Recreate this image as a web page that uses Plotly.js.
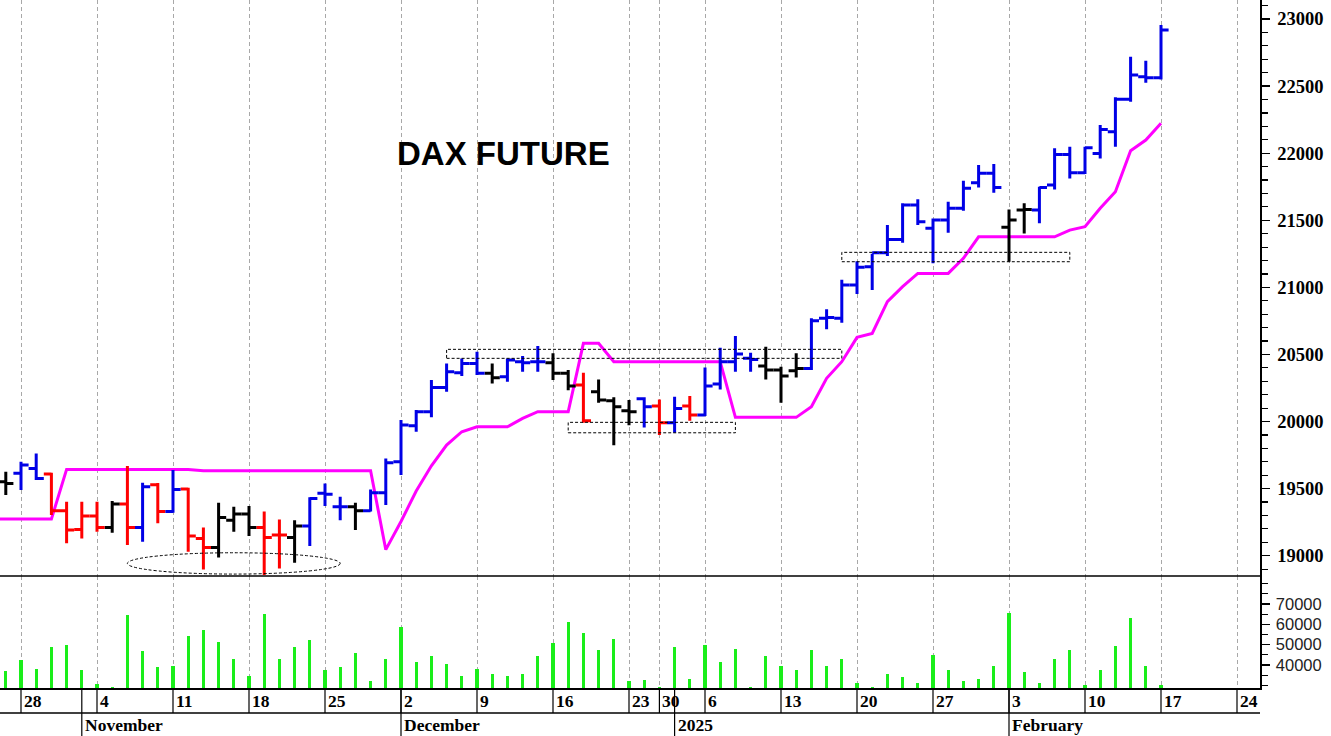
<!DOCTYPE html>
<html>
<head>
<meta charset="utf-8">
<script src="https://cdn.plot.ly/plotly-3.0.1.min.js"></script>
<style>
html,body{margin:0;padding:0;background:#fff;}
#chart{width:1331px;height:736px;}
</style>
</head>
<body>
<div id="chart"></div>
<script>
// ---------- DATA ----------
// trading-day calendar used by the time axis (Eurex holidays skipped)
const calendar = [
 '2024-10-24','2024-10-25',
 '2024-10-28','2024-10-29','2024-10-30','2024-10-31','2024-11-01',
 '2024-11-04','2024-11-05','2024-11-06','2024-11-07','2024-11-08',
 '2024-11-11','2024-11-12','2024-11-13','2024-11-14','2024-11-15',
 '2024-11-18','2024-11-19','2024-11-20','2024-11-21','2024-11-22',
 '2024-11-25','2024-11-26','2024-11-27','2024-11-28','2024-11-29',
 '2024-12-02','2024-12-03','2024-12-04','2024-12-05','2024-12-06',
 '2024-12-09','2024-12-10','2024-12-11','2024-12-12','2024-12-13',
 '2024-12-16','2024-12-17','2024-12-18','2024-12-19','2024-12-20',
 '2024-12-23','2024-12-27','2024-12-30','2025-01-02','2025-01-03',
 '2025-01-06','2025-01-07','2025-01-08','2025-01-09','2025-01-10',
 '2025-01-13','2025-01-14','2025-01-15','2025-01-16','2025-01-17',
 '2025-01-20','2025-01-21','2025-01-22','2025-01-23','2025-01-24',
 '2025-01-27','2025-01-28','2025-01-29','2025-01-30','2025-01-31',
 '2025-02-03','2025-02-04','2025-02-05','2025-02-06','2025-02-07',
 '2025-02-10','2025-02-11','2025-02-12','2025-02-13','2025-02-14',
 '2025-02-17','2025-02-18','2025-02-19','2025-02-20','2025-02-21',
 '2025-02-24'
];

const open = [null,19551,19614,19650,19608,19335,19196,19295,19211,19385,19211,19529,19330,19497,19129,19062,19265,19310,19211,19154,19136,19221,19465,19365,19365,19335,19469,19700,19968,20073,20254,20364,20433,20359,20334,20446,20446,20438,20359,20272,20222,20155,20080,20170,20115,19991,20115,20048,20279,20446,20471,20413,20384,20379,20396,20769,20769,21017,21154,21258,21357,21613,21440,21502,21589,21780,21850,21447,21576,21576,21762,21991,21854,21998,22160,22401,22570,22563];
const high = [null,19626,19700,19762,19618,19402,19402,19402,19407,19668,19544,19541,19638,19507,19211,19395,19365,19370,19330,19270,19265,19435,19539,19439,19395,19494,19725,20011,20085,20309,20433,20470,20520,20433,20470,20488,20563,20508,20384,20364,20314,20180,20160,20180,20165,20185,20190,20403,20550,20637,20513,20558,20408,20508,20769,20836,21056,21194,21250,21464,21626,21656,21514,21638,21795,21912,21919,21581,21626,21750,22036,22048,22048,22210,22416,22719,22689,22955];
const low = [null,19452,19489,19564,19303,19092,19129,19178,19171,19079,19104,19241,19320,19030,18898,18987,19178,19146,18856,18905,18947,19072,19370,19265,19191,19330,19377,19601,19924,20031,20222,20339,20346,20284,20297,20371,20371,20309,20234,19991,20140,19824,19973,19956,19899,19916,20006,20041,20239,20371,20371,20314,20140,20329,20384,20687,20736,20950,20980,21233,21333,21464,21179,21407,21571,21745,21705,21191,21402,21477,21730,21812,21844,21961,22048,22384,22525,22550];
const close = [null,19539,19676,19576,19335,19191,19295,19211,19385,19211,19514,19330,19494,19146,19062,19285,19310,19211,19136,19154,19221,19427,19458,19365,19335,19469,19693,19974,20073,20254,20371,20433,20359,20326,20458,20438,20446,20359,20264,20006,20160,20110,20073,20110,19991,20098,20048,20264,20446,20503,20463,20384,20339,20396,20751,20776,21017,21150,21258,21357,21613,21489,21502,21589,21738,21850,21745,21502,21581,21745,21991,21854,22041,22177,22401,22582,22563,22918];
// bar colour class per day: b = blue, r = red, k = black
const barClass = ('x' + 'kbbrrrrkrbrbrrkkkrrkbbbkbb' + 'bbbbb' + 'bkbbbkkrkkk' + 'brbrbbbbkkk' + 'bbbbbbbbbbbbb' + 'kk' + 'bbbbbbbbb').split('');
// magenta stop line
const stopLine = [19273,19273,19273,19273,19273,
 19643,19643,19643,19643,19643,19643,19643,19643,19643,
 19633,19633,19633,19633,19633,19633,19633,19633,19633,19633,19633,19633,
 19045,19255,19482,19670,19825,19924,19961,19961,19961,20023,20073,20073,20073,20583,20583,
 20446,20446,20446,20446,20446,20446,20446,20446,
 20031,20031,20031,20031,20031,
 20110,20322,20446,20627,20657,20893,21005,21104,21104,21104,21216,
 21377,21377,21377,21377,21377,21377,
 21427,21452,21589,21713,22018,22098,22223];
const volume = [null,37000,42400,38100,48700,50000,37600,30500,29400,64800,46800,38900,39600,54200,57200,51500,43000,34700,65000,43000,48900,52400,37600,38900,46100,32100,43000,58500,41700,44500,40300,34700,37800,35500,34700,35400,44500,51000,61100,55900,47400,52900,32000,32800,29400,48700,32900,50000,41700,47900,29400,44300,39600,37600,47400,39600,43000,31300,29400,35400,34200,31300,45100,37600,32000,32900,39600,65500,36700,31300,43000,47200,30000,37600,49400,63300,39600,30000];

const priceTicks = [19000,19500,20000,20500,21000,21500,22000,22500,23000];
const volumeTicks = [40000,50000,60000,70000];
const monthNames = {'2024-11':'November','2024-12':'December','2025-01':'2025','2025-02':'February'};
const chartTitle = 'DAX FUTURE';

// annotation boxes (date span + price span)
const boxes = [
  {from:'2024-12-05', to:'2025-01-17', lo:20471, hi:20538},
  {from:'2024-12-17', to:'2025-01-08', lo:19916, hi:19994},
  {from:'2025-01-17', to:'2025-02-07', lo:21191, hi:21261}
];
const ellipse = {from:'2024-11-06', to:'2024-11-26', lo:18863, hi:19022};

// ---------- BUILD ----------
const barDates = calendar.slice(0, open.length);
const xIdx = barDates.map(d => calendar.indexOf(d));
const colours = {b:'#0000e6', r:'#ff0000', k:'#000000'};

const traces = [];
// magenta line (drawn under the bars)
traces.push({
  type:'scatter', mode:'lines', x:xIdx, y:stopLine,
  line:{color:'#ff00ff', width:3}, hoverinfo:'skip', xaxis:'x', yaxis:'y'
});
['k','r','b'].forEach(c => {
  const sel = xIdx.map((x,i)=>i).filter(i => barClass[i] === c && open[i] != null);
  traces.push({
    type:'ohlc', xaxis:'x', yaxis:'y3',
    x: sel.map(i => xIdx[i]),
    open: sel.map(i => open[i]), high: sel.map(i => high[i]),
    low: sel.map(i => low[i]), close: sel.map(i => close[i]),
    increasing:{line:{color:colours[c], width:3}},
    decreasing:{line:{color:colours[c], width:3}},
    line:{width:3}, tickwidth:0.5, hoverinfo:'skip', showlegend:false
  });
});
traces.push({
  type:'bar', x:xIdx, y:volume, xaxis:'x', yaxis:'y2',
  marker:{color:'#1aee1a', line:{width:0}}, width:0.2, hoverinfo:'skip'
});

const mondays = calendar.map((d,i)=>({d,i})).filter(o => new Date(o.d+'T00:00:00Z').getUTCDay() === 1);
const monthStarts = calendar.map((d,i)=>({d,i})).filter(o => o.i > 0 && o.d.slice(0,7) !== calendar[o.i-1].slice(0,7));

const PH = 688;            // plot height in px
const rowY = -25/PH;       // bottom of day row
const botY = -48/PH;       // bottom of month row
const split = 112/PH;      // price / volume split

const shapes = [];
shapes.push({type:'line', xref:'paper', yref:'paper', x0:0, x1:1, y0:split, y1:split, line:{color:'#000', width:1.5}});
shapes.push({type:'line', xref:'paper', yref:'paper', x0:0, x1:1, y0:rowY, y1:rowY, line:{color:'#000', width:1.5}});
mondays.forEach(o => shapes.push({type:'line', xref:'x', yref:'paper', x0:o.i, x1:o.i, y0:0, y1:rowY, line:{color:'#000', width:1.2}}));
monthStarts.forEach(o => shapes.push({type:'line', xref:'x', yref:'paper', x0:o.i, x1:o.i, y0:0, y1:botY, line:{color:'#000', width:1.2}}));
boxes.forEach(b => shapes.push({type:'rect', xref:'x', yref:'y', x0:calendar.indexOf(b.from), x1:calendar.indexOf(b.to), y0:b.lo, y1:b.hi, line:{color:'#000', width:1, dash:'3px,2px'}}));
shapes.push({type:'circle', xref:'x', yref:'y', x0:calendar.indexOf(ellipse.from), x1:calendar.indexOf(ellipse.to), y0:ellipse.lo, y1:ellipse.hi, line:{color:'#000', width:1, dash:'3px,2px'}});

const annotations = [];
annotations.push({text:chartTitle, xref:'paper', yref:'paper', x:503/1260, y:1-153/PH, xanchor:'center', yanchor:'middle', showarrow:false,
  font:{family:'Liberation Sans, Arial, sans-serif', size:33, color:'#000', weight:'bold'}});
mondays.forEach(o => annotations.push({text:String(parseInt(o.d.slice(8),10)), xref:'x', yref:'paper', x:o.i, y:-12.5/PH, xanchor:'left', yanchor:'middle', xshift:1, showarrow:false,
  font:{family:'Liberation Serif, Times New Roman, serif', size:17.5, color:'#000', weight:'bold'}}));
monthStarts.forEach(o => annotations.push({text:monthNames[o.d.slice(0,7)], xref:'x', yref:'paper', x:o.i, y:-36.5/PH, xanchor:'left', yanchor:'middle', xshift:1, showarrow:false,
  font:{family:'Liberation Serif, Times New Roman, serif', size:17.5, color:'#000', weight:'bold'}}));

const priceRange = [18848.7, 23141.6];
const layout = {
  width:1331, height:736,
  margin:{l:0, r:71, t:0, b:48, pad:0},
  paper_bgcolor:'#fff', plot_bgcolor:'#fff',
  showlegend:false,
  xaxis:{range:[2-21/15.2, 2+1239/15.2], tickmode:'array', tickvals:mondays.map(o=>o.i), showticklabels:false, ticks:'',
    showgrid:true, gridcolor:'#a8a8a8', gridwidth:1, griddash:'4px,3px', zeroline:false,
    showline:true, linecolor:'#000', linewidth:1.5, anchor:'y2', rangeslider:{visible:false}, fixedrange:true},
  yaxis:{domain:[split,1], range:priceRange, side:'right', anchor:'x', tickmode:'array', tickvals:priceTicks,
    ticktext:priceTicks.map(String), ticklabelstandoff:4,
    ticks:'outside', ticklen:8, tickwidth:1.2, tickcolor:'#000', showgrid:false, zeroline:false,
    showline:true, linecolor:'#000', linewidth:1.5,
    minor:{tickmode:'linear', tick0:19000, dtick:100, ticks:'outside', ticklen:6, tickwidth:1.2, tickcolor:'#000', showgrid:false},
    tickfont:{family:'Liberation Serif, Times New Roman, serif', size:18.5, color:'#000', weight:'bold'}, fixedrange:true},
  yaxis2:{domain:[0,split], range:[28700, 83770], side:'right', anchor:'x', tickmode:'array', tickvals:volumeTicks,
    ticktext:volumeTicks.map(String), ticklabelstandoff:3,
    ticks:'outside', ticklen:8, tickwidth:1.2, tickcolor:'#000', showgrid:false, zeroline:false,
    showline:true, linecolor:'#000', linewidth:1.5,
    minor:{tickmode:'linear', tick0:0, dtick:5000, ticks:'outside', ticklen:6, tickwidth:1.2, tickcolor:'#000', showgrid:false},
    tickfont:{family:'Liberation Sans, Arial, sans-serif', size:16.5, color:'#222'}, fixedrange:true},
  yaxis3:{overlaying:'y', range:priceRange, visible:false, fixedrange:true},
  shapes, annotations,
  bargap:0
};

Plotly.newPlot('chart', traces, layout, {displayModeBar:false, staticPlot:true});
</script>
</body>
</html>
